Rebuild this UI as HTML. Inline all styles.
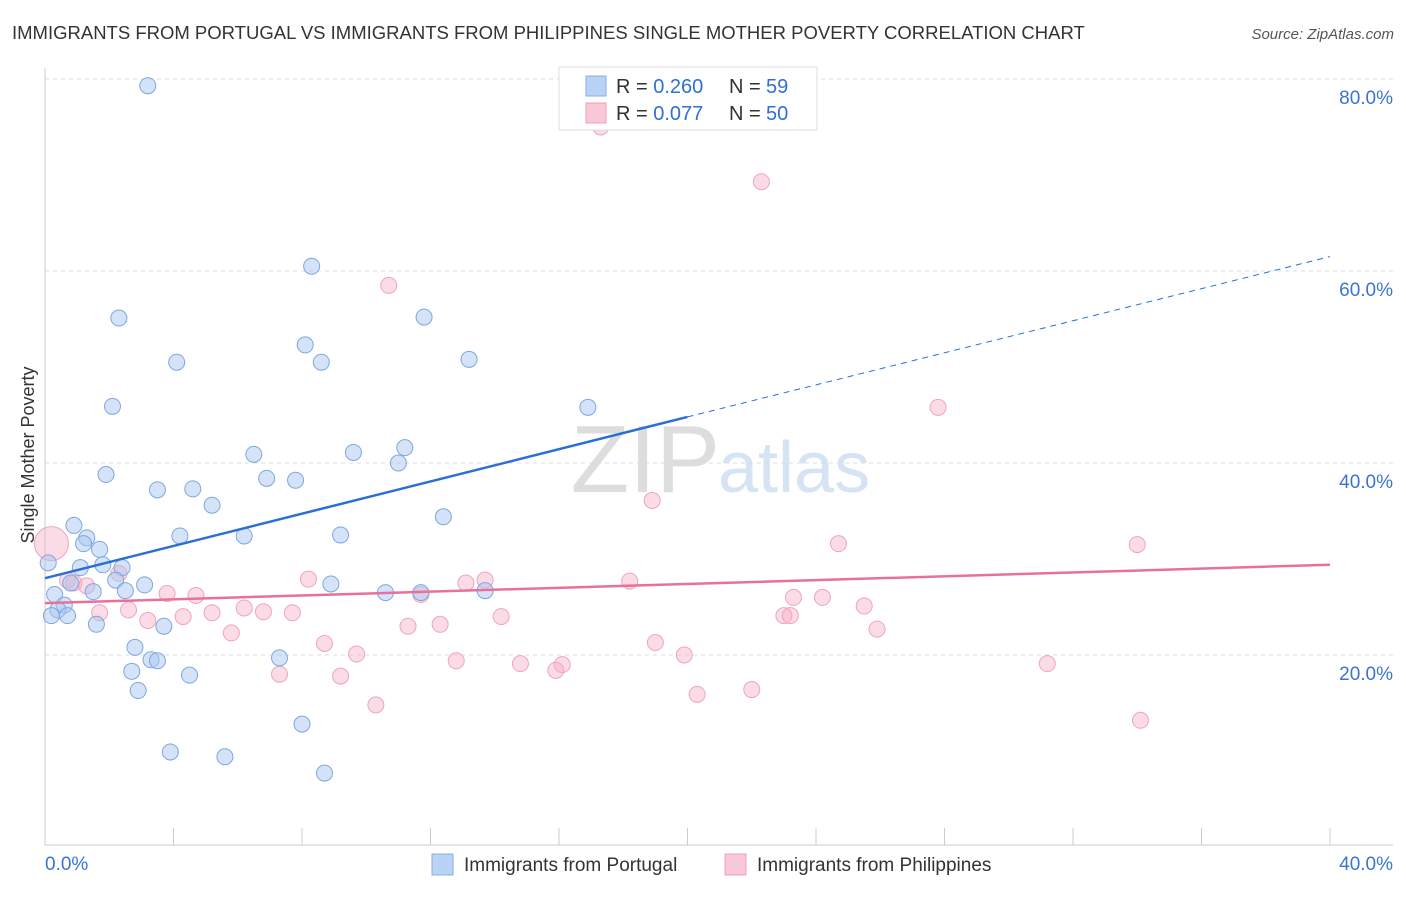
<!DOCTYPE html>
<html><head><meta charset="utf-8"><style>
body{margin:0;background:#fff;font-family:"Liberation Sans",sans-serif}
svg text{font-family:"Liberation Sans",sans-serif}
</style></head><body>
<svg width="1406" height="892" xmlns="http://www.w3.org/2000/svg">
<text x="12" y="39" font-size="18.5" fill="#333">IMMIGRANTS FROM PORTUGAL VS IMMIGRANTS FROM PHILIPPINES SINGLE MOTHER POVERTY CORRELATION CHART</text>
<text x="1394" y="39" font-size="15" fill="#555" font-style="italic" text-anchor="end">Source: ZipAtlas.com</text>
<text x="720" y="492" font-size="96" fill="#ddd" font-family="Liberation Serif" text-anchor="end">ZIP</text>
<text x="718" y="492" font-size="72" fill="#d5e3f5">atlas</text>
<g id="grid"></g><g id="axes"></g><g id="marks"></g>
<text transform="translate(34,455) rotate(-90)" font-size="18" fill="#333" text-anchor="middle">Single Mother Poverty</text>
<g>
<rect x="559" y="67" width="258" height="63" fill="#fff" stroke="#ddd"/>
<rect x="586" y="76" width="20" height="20" fill="#b9d3f6" stroke="#88aee6"/>
<rect x="586" y="103" width="20" height="20" fill="#f9c8d7" stroke="#f0a0b8"/>
<text x="616" y="93" font-size="20" fill="#333">R = <tspan fill="#2f6fd6">0.260</tspan></text>
<text x="729" y="93" font-size="20" fill="#333">N = </text><text x="766" y="93" font-size="20" fill="#2f6fd6">59</text>
<text x="616" y="120" font-size="20" fill="#333">R = <tspan fill="#2f6fd6">0.077</tspan></text>
<text x="729" y="120" font-size="20" fill="#333">N = </text><text x="766" y="120" font-size="20" fill="#2f6fd6">50</text>
</g>
<g>
<rect x="432" y="854" width="21" height="21" fill="#b9d3f6" stroke="#88aee6"/>
<text x="464" y="871" font-size="19" fill="#333">Immigrants from Portugal</text>
<rect x="725" y="854" width="21" height="21" fill="#f9c8d7" stroke="#f0a0b8"/>
<text x="757" y="871" font-size="19" fill="#333">Immigrants from Philippines</text>
</g>
</svg>
<script>
const yTicks=[20,40,60,80];
const xTickLabels=["0.0%","40.0%"];
const blueX=[3.2,8.3,2.3,11.8,8.1,4.1,8.6,13.2,2.1,16.9,6.5,9.6,11.2,11.0,1.9,6.9,7.8,3.5,4.6,5.2,12.4,0.9,4.2,6.2,9.2,1.3,1.2,1.7,0.1,1.8,1.1,2.4,2.2,3.1,0.8,8.9,10.6,11.7,13.7,1.5,2.5,0.3,0.6,0.4,0.2,0.7,1.6,3.7,2.8,3.3,3.5,7.3,2.7,4.5,2.9,8.0,3.9,5.6,8.7];
const blueY=[79.3,60.5,55.1,55.2,52.3,50.5,50.5,50.8,45.9,45.8,40.9,41.1,41.6,40.0,38.8,38.4,38.2,37.2,37.3,35.6,34.4,33.5,32.4,32.4,32.5,32.2,31.6,31.0,29.6,29.4,29.1,29.1,27.8,27.3,27.5,27.4,26.5,26.5,26.7,26.6,26.7,26.3,25.2,24.7,24.1,24.1,23.2,23.0,20.8,19.5,19.4,19.7,18.3,17.9,16.3,12.8,9.9,9.4,7.7];
const pinkX=[17.3,22.3,10.7,27.8,18.9,24.7,34.0,0.2,0.7,0.9,1.3,2.3,8.2,13.1,13.7,18.2,3.8,4.7,11.7,2.6,1.7,3.2,4.3,5.2,6.2,6.8,7.7,14.2,23.3,24.2,25.5,23.0,23.2,5.8,11.3,12.3,25.9,8.7,19.0,19.9,9.7,12.8,14.8,16.1,15.9,31.2,7.3,9.2,20.3,22.0,10.3,34.1];
const pinkY=[75.0,69.3,58.5,45.8,36.1,31.6,31.5,31.6,27.8,27.5,27.2,28.5,27.9,27.5,27.8,27.7,26.4,26.2,26.3,24.7,24.4,23.6,24.0,24.4,24.9,24.5,24.4,24.0,26.0,26.0,25.1,24.1,24.1,22.3,23.0,23.2,22.7,21.2,21.3,20.0,20.1,19.4,19.1,19.0,18.4,19.1,18.0,17.8,15.9,16.4,14.8,13.2];
const blueLine=[[0,28.0],[20,44.8],[40,61.5]];
const pinkLine=[[0,25.4],[40,29.4]];
const NS="http://www.w3.org/2000/svg";
const X=v=>45+v/40*1285, Y=v=>847-v/20*192;
function mk(t,a,p){const e=document.createElementNS(NS,t);for(const k in a)e.setAttribute(k,a[k]);p.appendChild(e);return e;}
const grid=document.getElementById('grid'),axes=document.getElementById('axes'),marks=document.getElementById('marks');
yTicks.forEach(t=>{
 const l=mk('line',{x1:45,x2:1393,y1:Y(t),y2:Y(t),stroke:'#ddd','stroke-dasharray':'4,4'},grid);
 
 
 const tx=mk('text',{x:1393,y:Y(t)+25,'font-size':19,fill:'#3b74d1','text-anchor':'end'},axes);
 tx.textContent=t.toFixed(1)+'%';
 
 
});
mk('line',{x1:45,x2:45,y1:68,y2:845,stroke:'#ccc'},axes);
mk('line',{x1:45,x2:1393,y1:845,y2:845,stroke:'#ccc'},axes);
for(let i=0;i<=10;i++){const l=mk('line',{x1:X(i*4),x2:X(i*4),y1:828,y2:845,stroke:'#ccc'},axes);
 
 }
[[0,45,'start'],[40,1393,'end']].forEach((d,i)=>{const t=mk('text',{x:d[1],y:870,'font-size':19,fill:'#3b74d1','text-anchor':d[2]},axes);t.textContent=xTickLabels[i];
 
 });
pinkX.forEach((v,i)=>{const c=mk('circle',{cx:X(v),cy:Y(pinkY[i]),r:i==7?17:8,fill:'rgba(246,176,200,0.45)',stroke:'#eea5bd','stroke-width':1},marks);
 
 });
blueX.forEach((v,i)=>{const c=mk('circle',{cx:X(v),cy:Y(blueY[i]),r:8,fill:'rgba(170,200,240,0.5)',stroke:'#7fa6df','stroke-width':1},marks);
 
 });
let l1=mk('line',{x1:X(blueLine[0][0]),y1:Y(blueLine[0][1]),x2:X(blueLine[1][0]),y2:Y(blueLine[1][1]),stroke:'#2a6fd6','stroke-width':2.5},marks);


let l2=mk('line',{x1:X(blueLine[1][0]),y1:Y(blueLine[1][1]),x2:X(blueLine[2][0]),y2:Y(blueLine[2][1]),stroke:'#2a6fd6','stroke-width':1,'stroke-dasharray':'6,5'},marks);


let l3=mk('line',{x1:X(pinkLine[0][0]),y1:Y(pinkLine[0][1]),x2:X(pinkLine[1][0]),y2:Y(pinkLine[1][1]),stroke:'#e8719b','stroke-width':2.5},marks);


</script>
</body></html>
